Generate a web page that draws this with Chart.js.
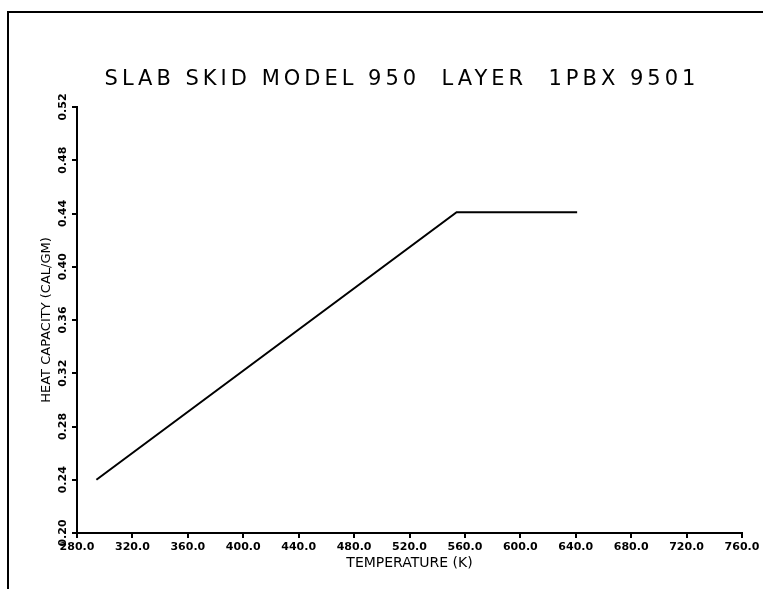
<!DOCTYPE html>
<html>
<head>
<meta charset="utf-8">
<script src="https://cdn.jsdelivr.net/npm/chart.js@4/dist/chart.umd.min.js"></script>
<style>
  html, body { margin: 0; padding: 0; background: #fff; }
  #wrap { width: 777px; height: 589px; }
</style>
</head>
<body>
<div id="wrap"><canvas id="chart" width="777" height="589"></canvas></div>
<script>
// values
const temperatures = [294.0, 554.0, 641.0];
const heatCapacity = [0.240, 0.441, 0.441];

const xTicks = [280, 320, 360, 400, 440, 480, 520, 560, 600, 640, 680, 720, 760];
const yTicks = [0.20, 0.24, 0.28, 0.32, 0.36, 0.40, 0.44, 0.48, 0.52];

const chartTitle = 'SLAB SKID MODEL 950  LAYER  1PBX 9501';
const xLabel = 'TEMPERATURE (K)';
const yLabel = 'HEAT CAPACITY (CAL/GM)';

// old plotter frame + title, drawn straight on the canvas
const framePlugin = {
  id: 'frame',
  afterDraw(chart) {
    const ctx = chart.ctx;
    ctx.save();
    ctx.strokeStyle = '#000';
    ctx.lineWidth = 2;
    ctx.beginPath();
    ctx.moveTo(8, 589);
    ctx.lineTo(8, 12);
    ctx.lineTo(763, 12);
    ctx.stroke();

    ctx.fillStyle = '#000';
    ctx.font = '21px "DejaVu Sans"';
    ctx.letterSpacing = '4px';
    ctx.textAlign = 'center';
    ctx.textBaseline = 'middle';
    ctx.fillText(chartTitle, 402, 80);
    ctx.restore();
  }
};

const points = temperatures.map((t, i) => ({ x: t, y: heatCapacity[i] }));
const tickFont = { family: 'DejaVu Sans', size: 11, weight: 'bold' };

const ctx = document.getElementById('chart').getContext('2d');
const chart = new Chart(ctx, {
  type: 'line',
  data: {
    datasets: [{
      data: points,
      borderColor: '#000',
      borderWidth: 2,
      pointRadius: 0,
      tension: 0,
      fill: false,
    }],
  },
  options: {
    responsive: false,
    animation: false,
    layout: {
      autoPadding: false,
      padding: { top: 107, right: 35, left: 0, bottom: 0 },
    },
    plugins: {
      legend: { display: false },
      tooltip: { enabled: false },
    },
    scales: {
      x: {
        type: 'linear',
        min: 280,
        max: 760,
        afterBuildTicks: s => { s.ticks = xTicks.map(v => ({ value: v })); },
        afterFit: s => { s.height = 56; },
        border: { display: true, color: '#000', width: 2 },
        grid: { drawOnChartArea: false, drawTicks: true, tickLength: 5, color: '#000', lineWidth: 2 },
        ticks: {
          color: '#000',
          font: tickFont,
          padding: 3,
          maxRotation: 0,
          autoSkip: false,
          callback: v => Number(v).toFixed(1),
        },
        title: {
          display: true,
          text: xLabel,
          color: '#000',
          font: { family: 'DejaVu Sans', size: 14 },
          padding: { top: 0, bottom: 17 },
        },
      },
      y: {
        type: 'linear',
        min: 0.20,
        max: 0.52,
        afterBuildTicks: s => { s.ticks = yTicks.map(v => ({ value: v })); },
        afterFit: s => { s.width = 77; },
        border: { display: true, color: '#000', width: 2 },
        grid: { drawOnChartArea: false, drawTicks: true, tickLength: 5, color: '#000', lineWidth: 2 },
        ticks: {
          color: '#000',
          font: tickFont,
          padding: -5,
          minRotation: 90,
          maxRotation: 90,
          crossAlign: 'center',
          autoSkip: false,
          callback: v => Number(v).toFixed(2),
        },
        title: {
          display: true,
          text: yLabel,
          color: '#000',
          font: { family: 'DejaVu Sans', size: 13 },
          padding: { top: 39, bottom: 0 },
        },
      },
    },
  },
  plugins: [framePlugin],
});
</script>
</body>
</html>
